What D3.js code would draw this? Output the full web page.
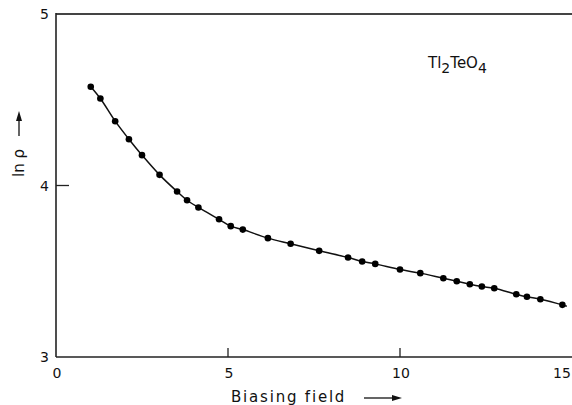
<!DOCTYPE html>
<html>
<head>
<meta charset="utf-8">
<script src="https://cdn.jsdelivr.net/npm/d3@7"></script>
<style>
  body { margin: 0; background: #fff; }
  svg { display: block; font-family: "DejaVu Sans", sans-serif; }
</style>
</head>
<body>
<script>
// biasing field vs ln(rho)
const fieldVals = [1.01, 1.29, 1.72, 2.12, 2.50, 3.01, 3.52, 3.81, 4.14, 4.74, 5.08, 5.43,
  6.16, 6.82, 7.65, 8.49, 8.90, 9.28, 10.0, 10.59, 11.26, 11.65, 12.03, 12.38, 12.74,
  13.38, 13.69, 14.08, 14.72];
const lnRho = [4.576, 4.507, 4.375, 4.270, 4.177, 4.062, 3.965, 3.914, 3.872, 3.803, 3.763, 3.743,
  3.693, 3.660, 3.619, 3.580, 3.557, 3.543, 3.510, 3.489, 3.459, 3.442, 3.424, 3.411, 3.401,
  3.366, 3.351, 3.337, 3.304];
const xTicks = [0, 5, 10, 15];
const yTicks = [3, 4, 5];

const width = 572, height = 405;
const x0 = 56, xEnd = 572; // left axis, right edge of frame
const x = d3.scaleLinear().domain([0, 10]).range([56, 400]);
const y = d3.scaleLinear().domain([3, 5]).range([357, 14]);

const svg = d3.select("body").append("svg")
  .attr("width", width).attr("height", height);

// frame
svg.append("line").attr("x1", x0).attr("x2", xEnd).attr("y1", y(5)).attr("y2", y(5))
  .attr("stroke", "#444").attr("stroke-width", 2.2);
svg.append("line").attr("x1", x0).attr("x2", x0).attr("y1", y(5) - 1).attr("y2", y(3))
  .attr("stroke", "#222").attr("stroke-width", 1.6);
svg.append("line").attr("x1", x0).attr("x2", xEnd).attr("y1", y(3)).attr("y2", y(3))
  .attr("stroke", "#222").attr("stroke-width", 1.6);

// ticks point into the plot
svg.selectAll(".xt").data(xTicks.filter(d => d > 0 && d < 15)).enter().append("line")
  .attr("x1", d => x(d)).attr("x2", d => x(d))
  .attr("y1", y(3)).attr("y2", y(3) - 9)
  .attr("stroke", "#222").attr("stroke-width", 1.3);
svg.selectAll(".yt").data(yTicks.filter(d => d > 3 && d < 5)).enter().append("line")
  .attr("x1", x0).attr("x2", x0 + 13)
  .attr("y1", d => y(d)).attr("y2", d => y(d))
  .attr("stroke", "#222").attr("stroke-width", 1.3);

// last label pulled in a little so it stays on the page
svg.selectAll(".xl").data(xTicks).enter().append("text")
  .attr("x", d => d === 15 ? x(d) - 10 : x(d) + 1).attr("y", y(3) + 21)
  .attr("text-anchor", "middle").attr("font-size", 14).attr("fill", "#111")
  .text(d => d);
svg.selectAll(".yl").data(yTicks).enter().append("text")
  .attr("x", 49).attr("y", d => y(d) + 5)
  .attr("text-anchor", "end").attr("font-size", 14).attr("fill", "#111")
  .text(d => d);

// curve + points
const pts = fieldVals.map((f, i) => [f, lnRho[i]]);
const line = d3.line().x(d => x(d[0])).y(d => y(d[1])).curve(d3.curveCatmullRom);
svg.append("path").datum(pts.concat([[14.85, 3.296]]))
  .attr("d", line).attr("fill", "none").attr("stroke", "#111").attr("stroke-width", 1.5);
svg.selectAll(".dot").data(pts).enter().append("circle")
  .attr("cx", d => x(d[0])).attr("cy", d => y(d[1])).attr("r", 3.3).attr("fill", "#000");

// compound name
const t = svg.append("text").attr("x", 428).attr("y", 68)
  .attr("font-size", 15).attr("fill", "#111");
t.append("tspan").text("Tl");
t.append("tspan").attr("dy", 5).attr("font-size", 14).text("2");
t.append("tspan").attr("dy", -5).text("TeO");
t.append("tspan").attr("dy", 5).attr("font-size", 14).text("4");

// axis titles with arrows
svg.append("text").attr("x", 231).attr("y", 402)
  .attr("font-size", 15).attr("letter-spacing", 1.8).attr("fill", "#111")
  .text("Biasing field");
const arrow = (g, xa, ya, xb, yb) => {
  g.append("line").attr("x1", xa).attr("y1", ya).attr("x2", xb).attr("y2", yb)
    .attr("stroke", "#111").attr("stroke-width", 1.3);
};
arrow(svg, 364, 398, 396, 398);
svg.append("path").attr("d", "M402,398 L392,395 L392,401 Z").attr("fill", "#111");

svg.append("text").attr("transform", "translate(24,163) rotate(-90)")
  .attr("text-anchor", "middle").attr("font-size", 15).attr("fill", "#111")
  .text("ln ρ");
arrow(svg, 19, 136, 19, 118);
svg.append("path").attr("d", "M19,111 L16,121 L22,121 Z").attr("fill", "#111");
</script>
</body>
</html>
